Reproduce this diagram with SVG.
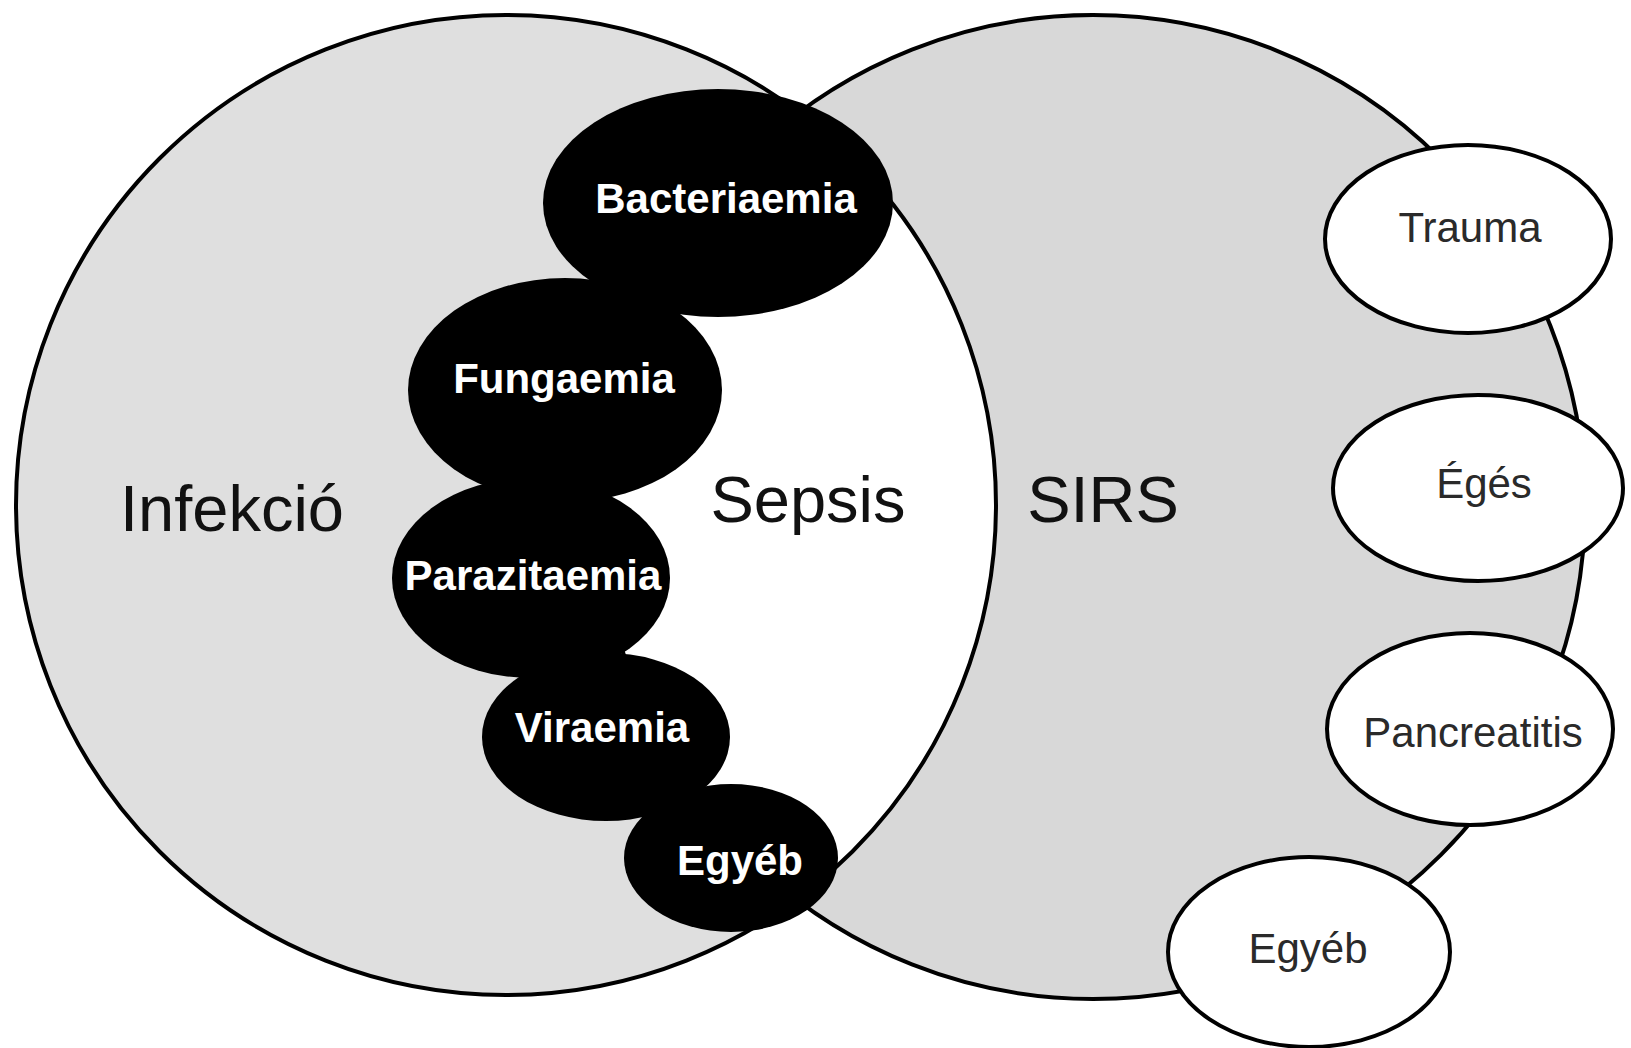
<svg xmlns="http://www.w3.org/2000/svg" width="1631" height="1048" viewBox="0 0 1631 1048">
<style>
.ring{fill:none;stroke:#000;stroke-width:4}
.blob{fill:#000}
.sat{fill:#fff;stroke:#000;stroke-width:4}
.bl{font-family:"Liberation Sans",Arial,sans-serif;font-weight:bold;font-size:42px;fill:#fff;text-anchor:middle}
.sl{font-family:"Liberation Sans",Arial,sans-serif;font-size:42px;fill:#2a2a2a;text-anchor:middle}
.big{font-family:"Liberation Sans",Arial,sans-serif;font-size:65px;fill:#111;text-anchor:middle}
</style>
<defs>
<clipPath id="clipLeft"><circle cx="506" cy="505" r="490"/></clipPath>
</defs>
<rect width="1631" height="1048" fill="#fff"/>
<g id="infekcio">
<circle cx="506" cy="505" r="490" fill="#dfdfdf"/>
</g>
<g id="sirs">
<circle cx="1093" cy="507" r="492" fill="#d8d8d8"/>
</g>
<g id="sepsis">
<circle cx="1093" cy="507" r="492" fill="#fff" clip-path="url(#clipLeft)"/>
</g>
<g id="outlines">
<circle class="ring" cx="506" cy="505" r="490"/>
<circle class="ring" cx="1093" cy="507" r="492"/>
</g>
<g id="connectors"/>
<g id="bacteriaemia">
<ellipse class="blob" cx="718" cy="203" rx="175" ry="114"/>
<text class="bl" x="726" y="213">Bacteriaemia</text>
</g>
<g id="fungaemia">
<ellipse class="blob" cx="565" cy="390" rx="157" ry="112"/>
<text class="bl" x="564" y="393">Fungaemia</text>
</g>
<g id="parazitaemia">
<ellipse class="blob" cx="531" cy="578" rx="139" ry="100"/>
<text class="bl" x="533" y="590">Parazitaemia</text>
</g>
<g id="viraemia">
<ellipse class="blob" cx="606" cy="737" rx="124" ry="84"/>
<text class="bl" x="602" y="742">Viraemia</text>
</g>
<g id="egyeb-inf">
<ellipse class="blob" cx="731" cy="858" rx="107" ry="74"/>
<text class="bl" x="740" y="875">Egyéb</text>
</g>
<g id="trauma">
<ellipse class="sat" cx="1468" cy="239" rx="143" ry="94"/>
<text class="sl" x="1470" y="242">Trauma</text>
</g>
<g id="eges">
<ellipse class="sat" cx="1478" cy="488" rx="145" ry="93"/>
<text class="sl" x="1484" y="498">Égés</text>
</g>
<g id="pancreatitis">
<ellipse class="sat" cx="1470" cy="729" rx="143" ry="96"/>
<text class="sl" x="1473" y="747">Pancreatitis</text>
</g>
<g id="egyeb-sirs">
<ellipse class="sat" cx="1309" cy="952" rx="141" ry="95"/>
<text class="sl" x="1308" y="963">Egyéb</text>
</g>
<g id="labels">
<text class="big" x="232" y="531">Infekció</text>
<text class="big" x="808" y="522" fill="#222">Sepsis</text>
<text class="big" x="1103" y="522">SIRS</text>
</g>
</svg>
